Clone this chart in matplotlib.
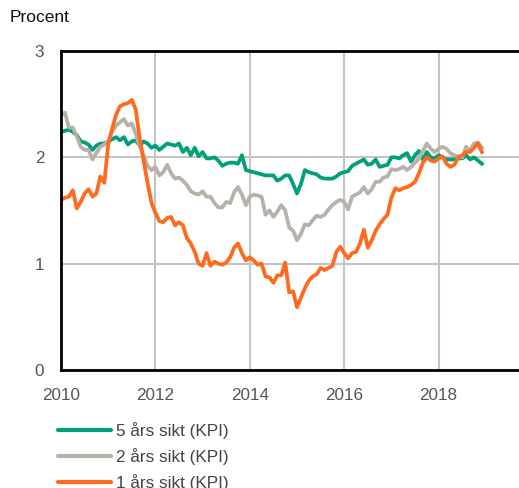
import matplotlib
matplotlib.use("Agg")
import matplotlib.pyplot as plt
import numpy as np

plt.rcParams['font.family'] = ['Liberation Sans', 'DejaVu Sans']

start_year = 2010
labels = ["5 års sikt (KPI)", "2 års sikt (KPI)", "1 års sikt (KPI)"]
colors = ["#00a07a", "#b8b1aa", "#ff6a1f"]

green = [2.24, 2.25, 2.26, 2.24, 2.21, 2.15, 2.14, 2.12, 2.07, 2.11, 2.13, 2.13,
         2.15, 2.17, 2.19, 2.16, 2.19, 2.12, 2.15, 2.16, 2.11, 2.15, 2.13, 2.09,
         2.11, 2.07, 2.10, 2.13, 2.12, 2.11, 2.13, 2.05, 2.09, 2.02, 2.09, 2.01,
         2.05, 1.99, 1.99, 2.00, 1.97, 1.92, 1.94, 1.95, 1.95, 1.94, 2.02, 1.88,
         1.87, 1.86, 1.85, 1.84, 1.83, 1.83, 1.83, 1.78, 1.80, 1.83, 1.83, 1.75,
         1.66, 1.75, 1.88, 1.86, 1.85, 1.84, 1.81, 1.80, 1.80, 1.80, 1.82, 1.85,
         1.86, 1.87, 1.92, 1.94, 1.96, 1.98, 1.93, 1.94, 1.98, 1.91, 1.92, 1.93,
         2.00, 2.00, 1.99, 2.02, 2.04, 1.96, 2.02, 2.06, 1.98, 2.05, 2.00, 1.99,
         2.02, 2.00, 1.98, 1.98, 1.98, 1.99, 1.99, 2.02, 1.98, 2.00, 1.97, 1.94]

gray = [2.40, 2.42, 2.28, 2.28, 2.20, 2.10, 2.07, 2.07, 1.98, 2.04, 2.10, 2.12,
        2.15, 2.24, 2.30, 2.33, 2.36, 2.30, 2.32, 2.22, 2.10, 2.02, 1.92, 1.88,
        1.91, 1.83, 1.86, 1.93, 1.85, 1.80, 1.81, 1.78, 1.74, 1.68, 1.66, 1.65,
        1.68, 1.63, 1.63, 1.57, 1.53, 1.53, 1.58, 1.57, 1.67, 1.72, 1.65, 1.55,
        1.63, 1.65, 1.64, 1.63, 1.46, 1.50, 1.44, 1.49, 1.55, 1.50, 1.34, 1.31,
        1.22, 1.28, 1.37, 1.36, 1.41, 1.45, 1.44, 1.46, 1.51, 1.55, 1.58, 1.60,
        1.58, 1.51, 1.63, 1.65, 1.67, 1.72, 1.66, 1.70, 1.77, 1.77, 1.81, 1.82,
        1.89, 1.88, 1.89, 1.91, 1.88, 1.91, 1.95, 1.99, 2.06, 2.13, 2.08, 2.05,
        2.08, 2.10, 2.08, 2.04, 2.02, 2.01, 2.00, 2.10, 2.06, 2.13, 2.14, 2.09]

orange = [1.60, 1.62, 1.63, 1.69, 1.52, 1.58, 1.66, 1.70, 1.63, 1.66, 1.82, 1.76,
          2.12, 2.27, 2.40, 2.48, 2.50, 2.51, 2.54, 2.45, 2.18, 1.97, 1.76, 1.57,
          1.48, 1.40, 1.39, 1.43, 1.44, 1.36, 1.39, 1.36, 1.24, 1.19, 1.11, 1.00,
          0.98, 1.10, 0.98, 1.02, 1.00, 0.99, 1.01, 1.06, 1.15, 1.19, 1.10, 1.03,
          1.06, 1.03, 0.99, 1.00, 0.88, 0.87, 0.82, 0.89, 0.89, 1.01, 0.73, 0.74,
          0.59, 0.68, 0.77, 0.84, 0.88, 0.90, 0.96, 0.94, 0.96, 0.98, 1.11, 1.16,
          1.10, 1.05, 1.10, 1.11, 1.19, 1.32, 1.15, 1.22, 1.31, 1.37, 1.42, 1.46,
          1.62, 1.71, 1.69, 1.71, 1.72, 1.74, 1.77, 1.85, 1.95, 2.00, 1.97, 1.96,
          1.99, 2.01, 1.94, 1.91, 1.93, 2.00, 2.02, 2.05, 2.05, 2.09, 2.13, 2.05]

xticks = [2010, 2012, 2014, 2016, 2018]
yticks = [0, 1, 2, 3]

t = start_year + np.arange(len(green)) / 12.0

fig = plt.figure(figsize=(5.19, 4.88), dpi=100)
ax = fig.add_axes([61/519, 1-370/488, 1-61/519, (370-51)/488])

for series, lab, col in zip([green, gray, orange], labels, colors):
    ax.plot(t, series, color=col, lw=2.7, label=lab, solid_joinstyle='round')

ax.set_xlim(2010, 2010 + (519-61)/47.2)
ax.set_ylim(0, 3)
ax.set_xticks(xticks)
ax.set_yticks(yticks)
ax.set_xticklabels([str(x) for x in xticks])
ax.tick_params(axis='both', length=0, labelsize=12.3, labelcolor='#555555')
ax.tick_params(axis='x', pad=13)
ax.tick_params(axis='y', pad=12)
ax.grid(True, color='#c4c4c4', lw=1.5)
ax.set_axisbelow(True)
for s in ['left', 'top', 'bottom']:
    ax.spines[s].set_color('black')
    ax.spines[s].set_linewidth(2)
ax.spines['right'].set_visible(False)

fig.text(10/519, 1-18/488, "Procent", fontsize=12.5, color='#111111', va='center', ha='left')

leg = ax.legend(loc='upper left', bbox_to_anchor=(-3/458, -52/319), frameon=False,
                fontsize=12.3, handlelength=3.1, handletextpad=0.3, labelspacing=0.52,
                borderaxespad=0, borderpad=0)
for txt in leg.get_texts():
    txt.set_color('#444444')
for ln in leg.get_lines():
    ln.set_linewidth(3)
    ln.set_solid_capstyle('round')

fig.savefig("out.png", dpi=100)
